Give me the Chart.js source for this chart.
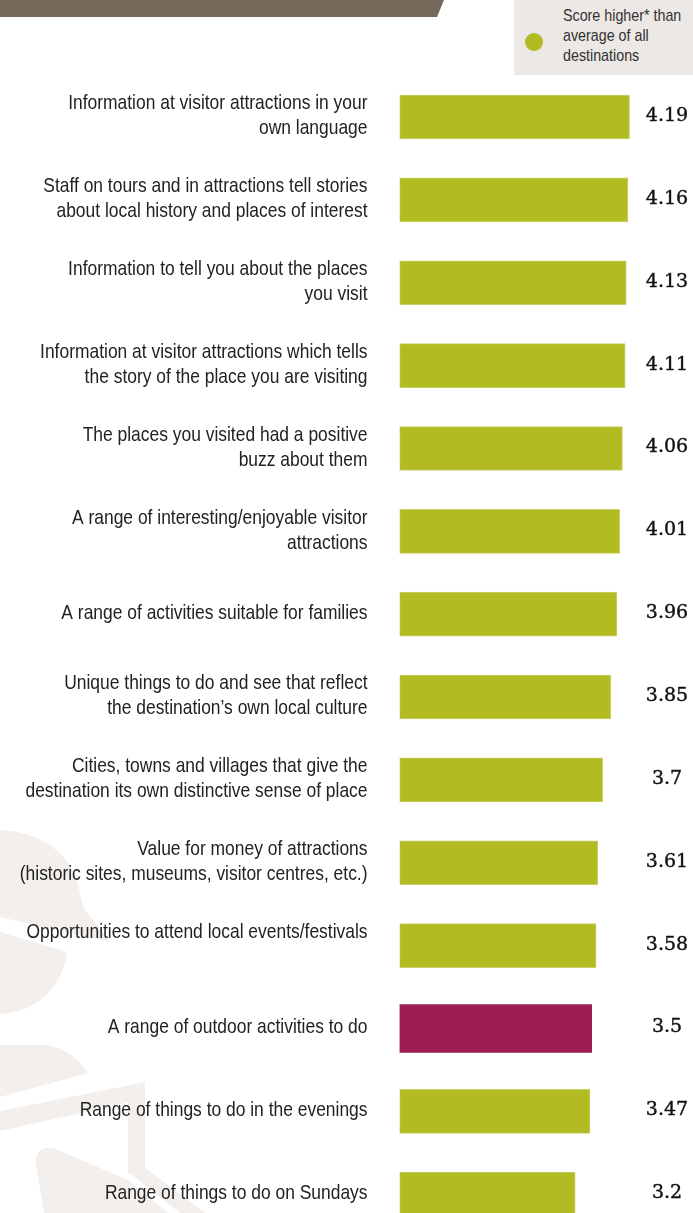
<!DOCTYPE html>
<html>
<head>
  <meta charset="utf-8">
  <meta name="viewport" content="width=device-width, initial-scale=1.0">
  <title>Visitor attraction scores</title>
  <script src="https://cdn.jsdelivr.net/npm/chart.js"></script>
  <style>
    body {
      margin: 0;
      width: 693px;
      height: 1213px;
      overflow: hidden;
      position: relative;
      background: #ffffff;
      font-family: "Liberation Sans", Arial, sans-serif;
    }
    .band {
      position: absolute;
      left: 0;
      top: 0;
      width: 444px;
      height: 17px;
      background: #75675a;
      clip-path: polygon(0 0, 444px 0, 437px 17px, 0 17px);
    }
    .legend {
      position: absolute;
      left: 514px;
      top: 0;
      width: 179px;
      height: 75px;
      background: #ebe8e5;
      z-index: 2;
    }
    .legend .dot {
      position: absolute;
      left: 11px;
      top: 33px;
      width: 18px;
      height: 18px;
      border-radius: 50%;
      background: #b2bb21;
    }
    .legend .txt {
      position: absolute;
      left: 49px;
      top: 6px;
      font-size: 17px;
      line-height: 20px;
      color: #333333;
      white-space: nowrap;
      transform: scaleX(0.84);
      transform-origin: left top;
    }
    #scoreChart {
      position: absolute;
      left: 0;
      top: 0;
    }
  </style>
</head>
<body>

  <div class="band"></div>
  <div class="legend">
    <span class="dot"></span>
    <div class="txt">Score higher* than<br>average of all<br>destinations</div>
  </div>

  <canvas id="scoreChart" width="693" height="1240"></canvas>

  <script>
    // categories, scores and which ones beat the all-destination average
    const categories = [
      ['Information at visitor attractions in your', 'own language'],
      ['Staff on tours and in attractions tell stories', 'about local history and places of interest'],
      ['Information to tell you about the places', 'you visit'],
      ['Information at visitor attractions which tells', 'the story of the place you are visiting'],
      ['The places you visited had a positive', 'buzz about them'],
      ['A range of interesting/enjoyable visitor', 'attractions'],
      'A range of activities suitable for families',
      ['Unique things to do and see that reflect', 'the destination\u2019s own local culture'],
      ['Cities, towns and villages that give the', 'destination its own distinctive sense of place'],
      ['Value for money of attractions', '(historic sites, museums, visitor centres, etc.)'],
      ['Opportunities to attend local events/festivals', ''],
      'A range of outdoor activities to do',
      'Range of things to do in the evenings',
      'Range of things to do on Sundays'
    ];
    const scores = [4.19, 4.16, 4.13, 4.11, 4.06, 4.01, 3.96, 3.85, 3.7, 3.61, 3.58, 3.5, 3.47, 3.2];
    const aboveAverage = [true, true, true, true, true, true, true, true, true, true, true, false, true, true];

    const GREEN = '#b2bb21';
    const PURPLE = '#9c1d52';
    const LINE = 24.8;        // line spacing of the category text
    const NARROW = 0.83;      // horizontal squeeze for the condensed look

    const higherData = scores.map((v, i) => aboveAverage[i] ? v : null);
    const otherData = scores.map((v, i) => aboveAverage[i] ? null : v);

    // faint watermark shapes in the lower left corner
    const watermark = {
      id: 'watermark',
      beforeDraw(chart) {
        const c = chart.ctx;
        c.save();
        c.fillStyle = '#f3efec';

        c.beginPath();
        c.moveTo(0, 830);
        c.bezierCurveTo(45, 832, 76, 858, 80, 895);
        c.lineTo(84, 908);
        c.lineTo(110, 942);
        c.lineTo(0, 917);
        c.closePath();
        c.fill();

        c.beginPath();
        c.moveTo(0, 932);
        c.lineTo(67, 952);
        c.bezierCurveTo(62, 990, 35, 1012, 0, 1014);
        c.closePath();
        c.fill();

        c.beginPath();
        c.moveTo(0, 1045);
        c.lineTo(47, 1045);
        c.bezierCurveTo(65, 1048, 80, 1060, 88, 1073);
        c.lineTo(0, 1097);
        c.closePath();
        c.fill();

        c.beginPath();
        c.moveTo(0, 1111);
        c.lineTo(145, 1082);
        c.lineTo(145, 1099);
        c.lineTo(0, 1131);
        c.closePath();
        c.fill();

        c.beginPath();
        c.moveTo(128, 1102);
        c.lineTo(145, 1090);
        c.lineTo(145, 1168);
        c.lineTo(205, 1213);
        c.lineTo(180, 1213);
        c.lineTo(128, 1172);
        c.closePath();
        c.fill();

        c.beginPath();
        c.moveTo(36, 1165);
        c.bezierCurveTo(34, 1150, 45, 1144, 58, 1150);
        c.lineTo(128, 1180);
        c.lineTo(168, 1213);
        c.lineTo(44, 1213);
        c.closePath();
        c.fill();

        c.restore();
      }
    };

    // category text, right aligned against the bars, squeezed to a narrow face
    const categoryLabels = {
      id: 'categoryLabels',
      afterDraw(chart) {
        const c = chart.ctx;
        const yAxis = chart.scales.y;
        const right = chart.chartArea.left - 32;
        c.save();
        c.font = '21px "Liberation Sans", Arial, sans-serif';
        c.fillStyle = '#222222';
        c.textAlign = 'right';
        c.textBaseline = 'middle';
        categories.forEach((lbl, i) => {
          const lines = Array.isArray(lbl) ? lbl : [lbl];
          const y0 = yAxis.getPixelForValue(i) - (lines.length - 1) * LINE / 2 - 1;
          lines.forEach((t, k) => {
            c.save();
            c.translate(right, y0 + k * LINE);
            c.scale(NARROW, 1);
            c.fillText(t, 0, 0);
            c.restore();
          });
        });
        c.restore();
      }
    };

    // score printed in a column to the right of the bars
    const valueColumn = {
      id: 'valueColumn',
      afterDatasetsDraw(chart) {
        const c = chart.ctx;
        const yAxis = chart.scales.y;
        const x = chart.chartArea.right - 7;
        c.save();
        c.font = '19px "DejaVu Serif", "Liberation Serif", serif';
        c.fillStyle = '#111111';
        c.strokeStyle = '#111111';
        c.lineWidth = 0.4;
        c.textAlign = 'center';
        c.textBaseline = 'middle';
        scores.forEach((v, i) => {
          const y = yAxis.getPixelForValue(i) - 1;
          c.fillText(String(v), x, y);
          c.strokeText(String(v), x, y);
        });
        c.restore();
      }
    };

    const ctx = document.getElementById('scoreChart').getContext('2d');
    const chart = new Chart(ctx, {
      type: 'bar',
      data: {
        labels: categories,
        datasets: [
          {
            label: 'Score higher* than average of all destinations',
            data: higherData,
            backgroundColor: GREEN,
            borderColor: '#c9d06a',
            borderWidth: 1,
            borderSkipped: false,
            barThickness: 44,
            grouped: false
          },
          {
            label: 'Other',
            data: otherData,
            backgroundColor: PURPLE,
            borderWidth: 0,
            barThickness: 48,
            grouped: false
          }
        ]
      },
      options: {
        indexAxis: 'y',
        responsive: false,
        animation: false,
        layout: {
          padding: { top: 75.6, bottom: 4.4, left: 0, right: 19 }
        },
        plugins: {
          legend: { display: false },
          tooltip: { enabled: false }
        },
        scales: {
          x: {
            display: false,
            min: 0,
            max: 5
          },
          y: {
            grid: { display: false },
            border: { display: false },
            ticks: { display: false },
            afterFit(axis) { axis.width = 399.5; }
          }
        }
      },
      plugins: [watermark, categoryLabels, valueColumn]
    });
  </script>
</body>
</html>
